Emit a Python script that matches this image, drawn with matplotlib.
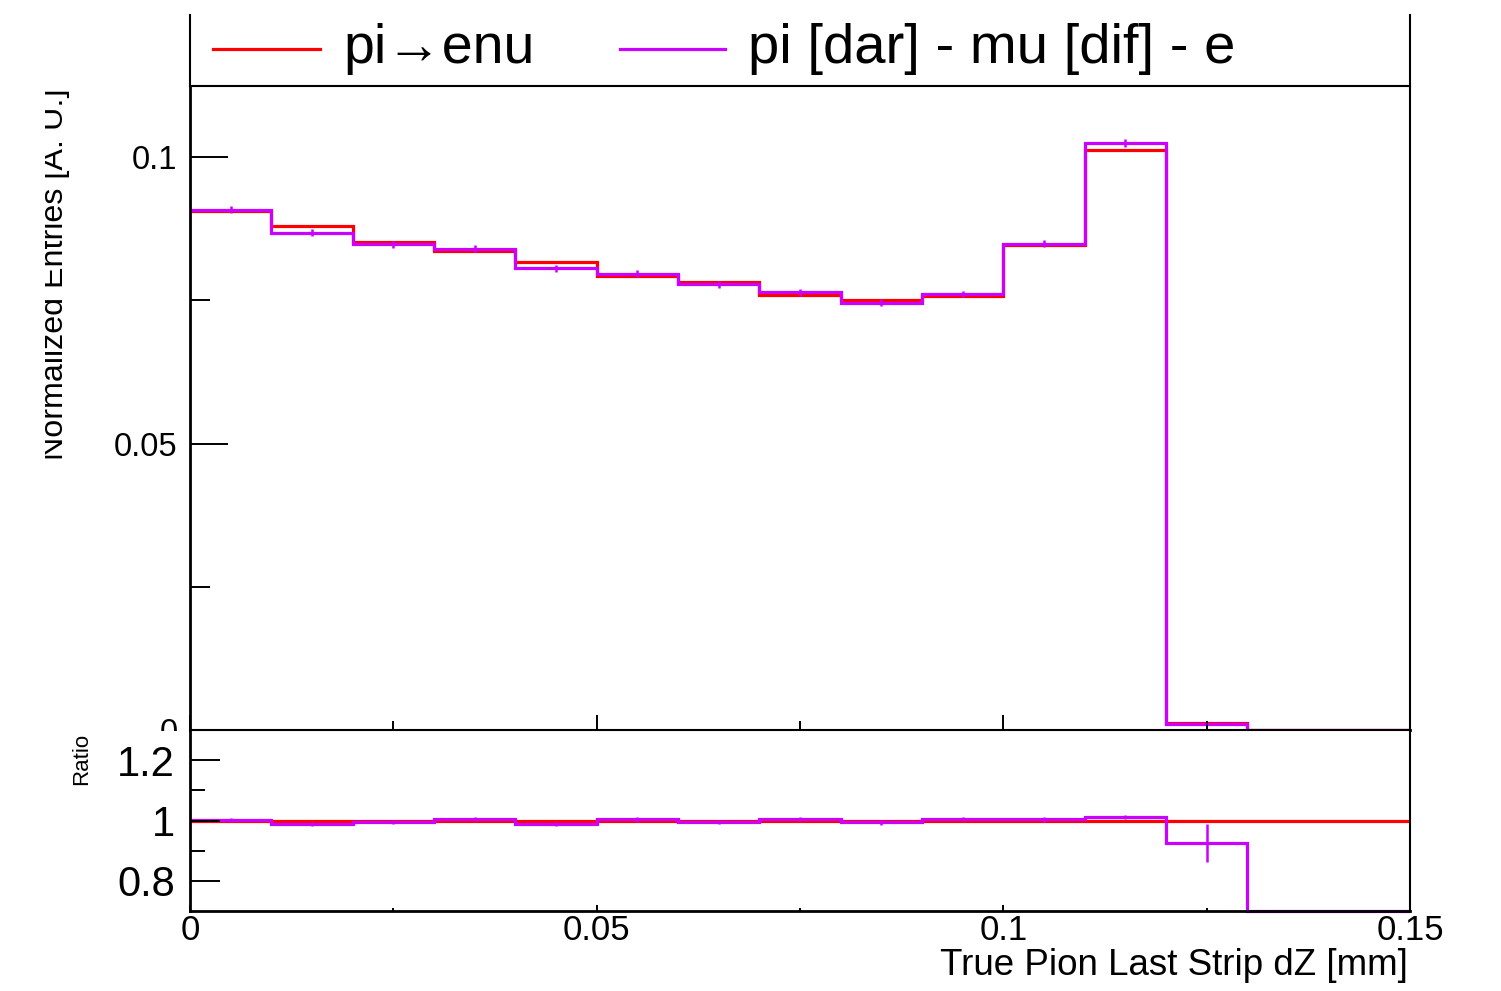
import numpy as np
import matplotlib.pyplot as plt
from matplotlib.patches import Rectangle
from matplotlib.lines import Line2D
from matplotlib.transforms import Bbox, TransformedBbox
from matplotlib.ticker import MultipleLocator, FixedLocator, FuncFormatter

plt.rcParams['font.family'] = ['Liberation Sans', 'DejaVu Sans']

# 15 bins of 0.01 mm in true pion last strip dZ
bin_edges = np.linspace(0.0, 0.15, 16)
pienu = [0.0906, 0.0879, 0.0852, 0.0836, 0.0816, 0.0793, 0.0782, 0.0760,
         0.0750, 0.0757, 0.0846, 0.1013, 0.00119, 0.00002, 0.00001]
pimudif = [0.0908, 0.0868, 0.0848, 0.0840, 0.0806, 0.0796, 0.0778, 0.0764,
           0.0746, 0.0761, 0.0849, 0.1024, 0.0011, 0.0, 0.0]
pimudif_err = [0.0006, 0.0006, 0.0006, 0.0006, 0.0006, 0.0006, 0.0006, 0.0006,
               0.0006, 0.0006, 0.0006, 0.0007, 0.000075, 0.0, 0.0]
labels = ['pi\u2192enu', 'pi [dar] - mu [dif] - e']
colors = ['#ff0000', '#cc00ff']

W, H = 1501, 991


def fx(px):
    return px / W


def fy(py):
    return 1 - py / H


pienu = np.array(pienu)
pimudif = np.array(pimudif)
pimudif_err = np.array(pimudif_err)
centers = 0.5 * (bin_edges[1:] + bin_edges[:-1])

ratio_ref = pienu / pienu
ratio = pimudif / pienu
ratio_err = pimudif_err / pienu
ratio_err[12] = 0.063
rlo, rhi = 0.7, 1.3

fig = plt.figure(figsize=(W / 100, H / 100), dpi=100)
ax = fig.add_axes([fx(190), fy(730), fx(1410) - fx(190), fy(86) - fy(730)], zorder=0)
rax = fig.add_axes([fx(190), fy(911), fx(1410) - fx(190), fy(730) - fy(911)], zorder=2)

lw = 2.3
# upper pad: the two histograms
ax.stairs(pienu, bin_edges, baseline=None, color=colors[0], lw=lw, clip_on=False)
ax.stairs(pimudif, bin_edges, baseline=None, color=colors[1], lw=lw, clip_on=False)
ax.errorbar(centers, pimudif, yerr=pimudif_err, fmt='none', ecolor=colors[1], elinewidth=1.8)
ax.set_xlim(0, 0.15)
ax.set_ylim(0, (730 - 86) / 5730)

ax.yaxis.set_major_locator(MultipleLocator(0.05))
ax.yaxis.set_minor_locator(MultipleLocator(0.025))
ax.yaxis.set_major_formatter(FuncFormatter(lambda v, p: f'{v:g}'))
ax.xaxis.set_major_locator(MultipleLocator(0.05))
ax.xaxis.set_minor_locator(MultipleLocator(0.025))
ax.tick_params(axis='y', which='major', direction='in', length=27.4, width=1.4, labelsize=23.5, pad=9)
ax.tick_params(axis='y', which='minor', direction='in', length=14.4, width=1.4)
ax.tick_params(axis='x', which='major', direction='in', length=10.8, width=1.4, labelbottom=False)
ax.tick_params(axis='x', which='minor', direction='in', length=6.5, width=1.4)
for s in ax.spines.values():
    s.set_linewidth(1.5)
ax.spines['left'].set_linewidth(2.0)
ax.spines['bottom'].set_linewidth(2.0)

# lower pad: ratio to pi->enu
rax.stairs(ratio_ref, bin_edges, baseline=None, color=colors[0], lw=lw, clip_on=False)
rax.stairs(np.clip(ratio, rlo, rhi), bin_edges, baseline=None, color=colors[1], lw=lw, clip_on=False)
show = ratio > rlo
rax.errorbar(centers[show], ratio[show], yerr=ratio_err[show], fmt='none',
             ecolor=colors[1], elinewidth=1.8)
rax.set_xlim(0, 0.15)
rax.set_ylim(rlo, rhi)
rax.yaxis.set_major_locator(FixedLocator([0.8, 1.0, 1.2]))
rax.yaxis.set_minor_locator(FixedLocator([0.9, 1.1]))
rax.yaxis.set_major_formatter(FuncFormatter(lambda v, p: f'{v:g}'))
rax.xaxis.set_major_locator(MultipleLocator(0.05))
rax.xaxis.set_minor_locator(MultipleLocator(0.025))
rax.xaxis.set_major_formatter(FuncFormatter(lambda v, p: f'{v:g}'))
rax.tick_params(axis='y', which='major', direction='in', length=21.6, width=1.4, labelsize=30, pad=11)
rax.tick_params(axis='y', which='minor', direction='in', length=10.8, width=1.4)
rax.tick_params(axis='x', which='major', direction='in', length=4.3, width=1.4, labelsize=25, pad=2)
rax.tick_params(axis='x', which='minor', direction='in', length=2.2, width=1.4)
for s in rax.spines.values():
    s.set_linewidth(1.5)
rax.spines['left'].set_linewidth(2.0)
rax.spines['bottom'].set_linewidth(2.0)

# lower pad background hides the bottom of the upper pad's labels
fig.add_artist(Rectangle((0, 0), fx(187), fy(731), transform=fig.transFigure,
                         facecolor='white', edgecolor='none', zorder=1))

# legend box above the frame
for xb in (190, 1410):
    fig.add_artist(Line2D([fx(xb), fx(xb)], [fy(15), fy(86)], color='black', lw=1.5))
fig.add_artist(Line2D([fx(213), fx(320)], [fy(49), fy(49)], color=colors[0], lw=lw))
fig.text(fx(343), fy(63), labels[0], fontsize=40, va='baseline', ha='left')
fig.add_artist(Line2D([fx(620), fx(725)], [fy(49), fy(49)], color=colors[1], lw=lw))
fig.text(fx(748), fy(63), labels[1], fontsize=40.5, va='baseline', ha='left')

# axis titles
yt = fig.text(fx(63), fy(88), 'Normalized Entries [A. U.]', fontsize=23.2, rotation=90,
              rotation_mode='anchor', ha='right', va='baseline')
yt.set_clip_box(TransformedBbox(Bbox.from_extents(fx(45), 0, 1, 1), fig.transFigure))
yt.set_clip_on(True)
fig.text(fx(87), fy(733), 'Ratio', fontsize=16, rotation=90,
         rotation_mode='anchor', ha='right', va='baseline')
fig.text(fx(1408), fy(975), 'True Pion Last Strip dZ [mm]', fontsize=26.5,
         ha='right', va='baseline')

fig.savefig('out.png', dpi=100, facecolor='white')
